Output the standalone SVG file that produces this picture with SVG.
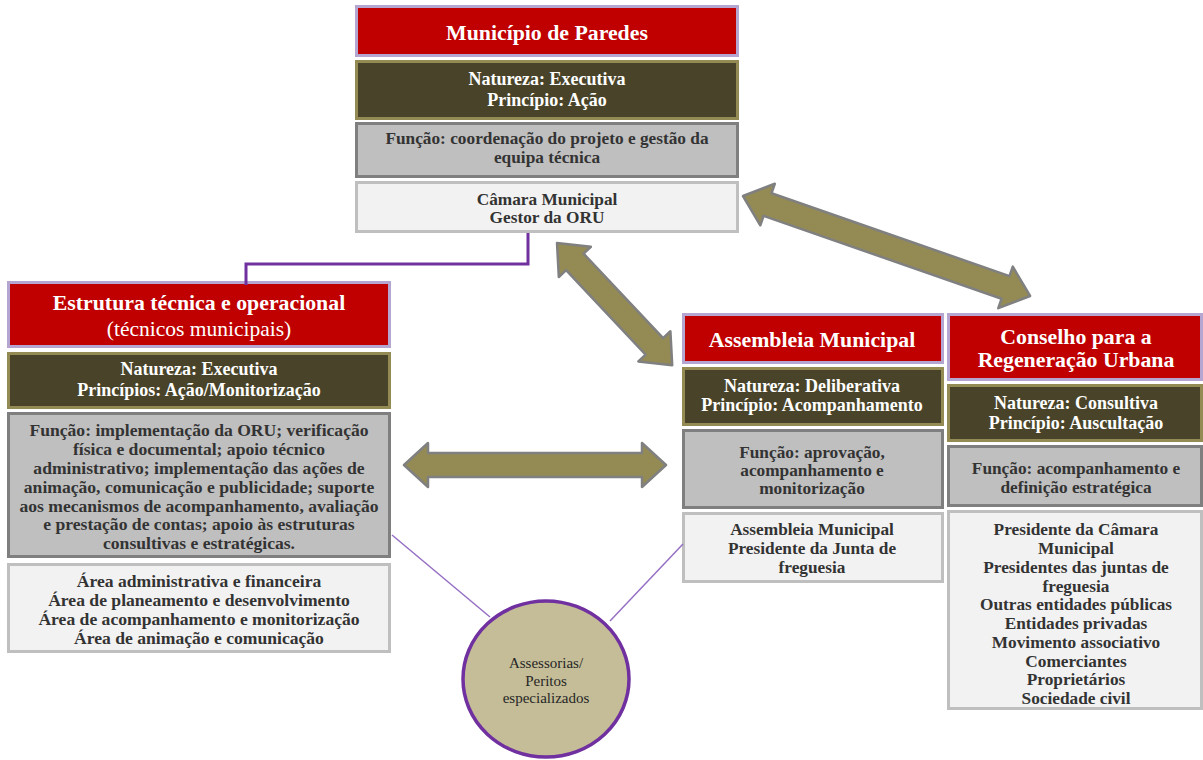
<svg xmlns="http://www.w3.org/2000/svg" width="1203" height="760" viewBox="0 0 1203 760">
<style>
text{font-family:"Liberation Serif","DejaVu Serif",serif;text-anchor:middle;}
.red{fill:#c00000;stroke:#b4a6d0;stroke-width:3;}
.dark{fill:#494429;stroke:#948a54;stroke-width:3;}
.gray{fill:#bfbfbf;stroke:#7f7f7f;stroke-width:3;}
.light{fill:#f2f2f2;stroke:#bfbfbf;stroke-width:3;}
.t{fill:#ffffff;font-weight:bold;font-size:21.8px;}
.tn{fill:#ffffff;font-weight:normal;font-size:21.5px;}
.w{fill:#ffffff;font-weight:bold;font-size:18px;}
.k{fill:#333333;font-weight:bold;font-size:17.3px;}
.ks{fill:#333333;font-weight:bold;font-size:17.6px;}
.c{fill:#262626;font-size:15px;}
.arrow{fill:#948a54;stroke:#808080;stroke-width:2.5;stroke-linejoin:round;}
.link{fill:none;stroke:#7030a0;stroke-width:3;}
.thin{fill:none;stroke:#9670c4;stroke-width:1.5;}
</style>
<rect width="1203" height="760" fill="#ffffff"/>
<g id="municipio">
<rect class="red" x="356.5" y="6.5" width="381" height="49"/>
<rect class="dark" x="356.5" y="61.5" width="381" height="57"/>
<rect class="gray" x="356.5" y="123.5" width="381" height="53"/>
<rect class="light" x="356.5" y="182.5" width="381" height="49"/>
<text class="t" x="547" y="40">Município de Paredes</text>
<text class="w" x="547" y="85">Natureza: Executiva</text>
<text class="w" x="547" y="106">Princípio: Ação</text>
<text class="k" x="547" y="144">Função: coordenação do projeto e gestão da</text>
<text class="k" x="547" y="163">equipa técnica</text>
<text class="k" x="547" y="205">Câmara Municipal</text>
<text class="k" x="547" y="223">Gestor da ORU</text>
</g>
<g id="estrutura">
<rect class="red" x="8.5" y="282.5" width="381" height="64"/>
<rect class="dark" x="8.5" y="353.5" width="381" height="54"/>
<rect class="gray" x="8.5" y="413.5" width="381" height="143"/>
<rect class="light" x="8.5" y="564.5" width="381" height="87"/>
<text class="t" x="199" y="310">Estrutura técnica e operacional</text>
<text class="tn" x="199" y="336">(técnicos municipais)</text>
<text class="w" x="199" y="375">Natureza: Executiva</text>
<text class="w" x="199" y="396">Princípios: Ação/Monitorização</text>
<text class="ks" x="199" y="436">Função: implementação da ORU; verificação</text>
<text class="ks" x="199" y="455">física e documental; apoio técnico</text>
<text class="ks" x="199" y="474">administrativo; implementação das ações de</text>
<text class="ks" x="199" y="493">animação, comunicação e publicidade; suporte</text>
<text class="ks" x="199" y="512">aos mecanismos de acompanhamento, avaliação</text>
<text class="ks" x="199" y="530">e prestação de contas; apoio às estruturas</text>
<text class="ks" x="199" y="549">consultivas e estratégicas.</text>
<text class="ks" x="199" y="587">Área administrativa e financeira</text>
<text class="ks" x="199" y="606">Área de planeamento e desenvolvimento</text>
<text class="ks" x="199" y="625">Área de acompanhamento e monitorização</text>
<text class="ks" x="199" y="644">Área de animação e comunicação</text>
</g>
<g id="assembleia">
<rect class="red" x="683.5" y="314.5" width="259" height="48"/>
<rect class="dark" x="683.5" y="368.5" width="259" height="56"/>
<rect class="gray" x="683.5" y="430.5" width="259" height="77"/>
<rect class="light" x="683.5" y="513.5" width="259" height="68"/>
<text class="t" x="812" y="347">Assembleia Municipal</text>
<text class="w" x="812" y="392">Natureza: Deliberativa</text>
<text class="w" x="812" y="411">Princípio: Acompanhamento</text>
<text class="k" x="812" y="458">Função: aprovação,</text>
<text class="k" x="812" y="476">acompanhamento e</text>
<text class="k" x="812" y="494">monitorização</text>
<text class="k" x="812" y="535">Assembleia Municipal</text>
<text class="k" x="812" y="554">Presidente da Junta de</text>
<text class="k" x="812" y="573">freguesia</text>
</g>
<g id="conselho">
<rect class="red" x="948.5" y="314.5" width="253" height="65"/>
<rect class="dark" x="948.5" y="385.5" width="253" height="55"/>
<rect class="gray" x="948.5" y="446.5" width="253" height="59"/>
<rect class="light" x="948.5" y="511.5" width="253" height="197"/>
<text class="t" x="1076" y="344">Conselho para a</text>
<text class="t" x="1076" y="367">Regeneração Urbana</text>
<text class="w" x="1076" y="409">Natureza: Consultiva</text>
<text class="w" x="1076" y="429">Princípio: Auscultação</text>
<text class="k" x="1076" y="474">Função: acompanhamento e</text>
<text class="k" x="1076" y="493">definição estratégica</text>
<text class="k" x="1076" y="535">Presidente da Câmara</text>
<text class="k" x="1076" y="554">Municipal</text>
<text class="k" x="1076" y="573">Presidentes das juntas de</text>
<text class="k" x="1076" y="592">freguesia</text>
<text class="k" x="1076" y="610">Outras entidades públicas</text>
<text class="k" x="1076" y="629">Entidades privadas</text>
<text class="k" x="1076" y="648">Movimento associativo</text>
<text class="k" x="1076" y="667">Comerciantes</text>
<text class="k" x="1076" y="685">Proprietários</text>
<text class="k" x="1076" y="704">Sociedade civil</text>
</g>
<g id="assessorias">
<ellipse cx="546" cy="679" rx="83" ry="78" fill="#c4bd97" stroke="#7030a0" stroke-width="3.5"/>
<text class="c" x="546" y="668">Assessorias/</text>
<text class="c" x="546" y="686">Peritos</text>
<text class="c" x="546" y="703">especializados</text>
</g>
<g id="connectors">
<polyline class="link" points="528,233 528,264 246,264 246,285"/>
<line class="thin" x1="392" y1="535" x2="490" y2="617"/>
<line class="thin" x1="610" y1="621" x2="683" y2="544"/>
<path class="arrow" transform="translate(404,465)" d="M0,0 L24,-22 L24,-12 L238,-12 L238,-22 L262,0 L238,22 L238,12 L24,12 L24,22 Z"/>
<path class="arrow" transform="translate(557,243) rotate(46.7)" d="M0,0 L26,-22 L26,-12 L142,-12 L142,-22 L168,0 L142,22 L142,12 L26,12 L26,22 Z"/>
<path class="arrow" transform="translate(743,196) rotate(19.2)" d="M0,0 L26,-22 L26,-12 L278,-12 L278,-22 L304,0 L278,22 L278,12 L26,12 L26,22 Z"/>
</g>
</svg>
